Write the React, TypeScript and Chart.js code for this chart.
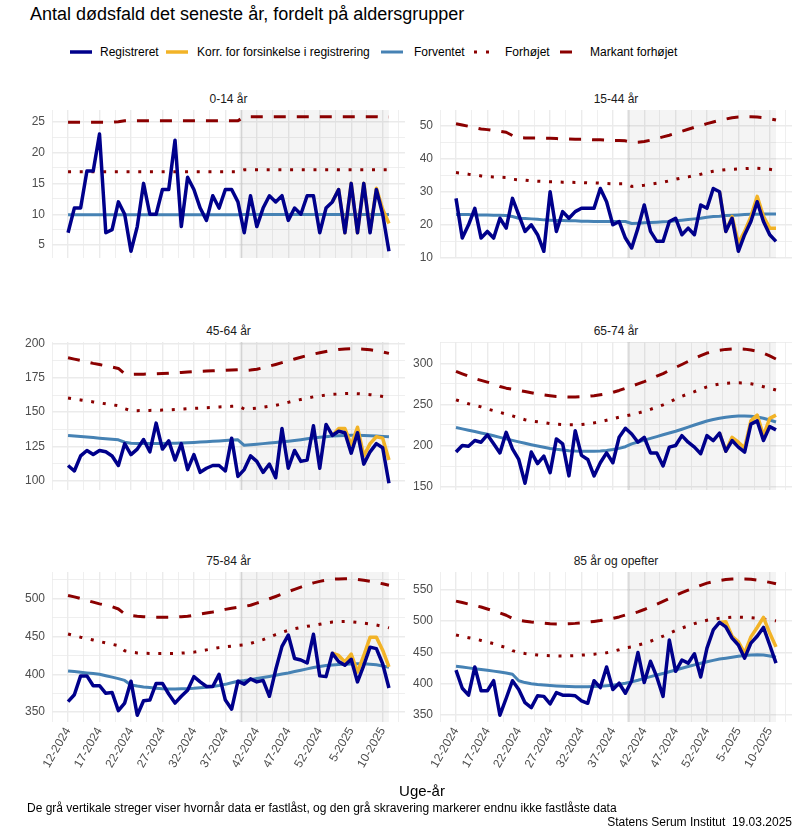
import React, { useEffect, useRef } from 'react';
import { Chart, registerables } from 'chart.js';

Chart.register(...registerables);
Chart.defaults.font.family = '"Liberation Sans", Arial, sans-serif';

// ---------- categories ----------
const WEEKS = [
  '12-2024', '13-2024', '14-2024', '15-2024', '16-2024', '17-2024', '18-2024', '19-2024', '20-2024', '21-2024',
  '22-2024', '23-2024', '24-2024', '25-2024', '26-2024', '27-2024', '28-2024', '29-2024', '30-2024', '31-2024',
  '32-2024', '33-2024', '34-2024', '35-2024', '36-2024', '37-2024', '38-2024', '39-2024', '40-2024', '41-2024',
  '42-2024', '43-2024', '44-2024', '45-2024', '46-2024', '47-2024', '48-2024', '49-2024', '50-2024', '51-2024',
  '52-2024', '1-2025', '2-2025', '3-2025', '4-2025', '5-2025', '6-2025', '7-2025', '8-2025', '9-2025',
  '10-2025', '11-2025',
];
const X_TICK_EVERY = 5;
const SHADE_START = 27.5; // between week 39 and 40 (not yet locked data)
const KORR_START = 42; // first week index of the corrected series

const PANEL_TITLES = ['0-14 år', '15-44 år', '45-64 år', '65-74 år', '75-84 år', '85 år og opefter'];
const Y_STEPS = [5, 10, 25, 50, 50, 50];

// ---------- 0-14 år ----------
const REG_A = [7, 11, 11, 17, 17, 23, 7, 7.5, 12, 10, 4, 8, 15, 10, 10, 14, 14, 22, 8, 16, 14, 11, 9, 13, 11, 14, 14, 12, 7, 13, 8, 11, 13, 12, 13, 9, 11, 10, 13, 13, 7, 11, 12, 14, 7, 15, 7, 15, 7, 14, 10, 4];
const KORR_A = [12, 14, 7, 15, 7, 15, 7.2, 14.2, 10.8, 8.5];
const FORV_A = [9.9, 9.9, 9.9, 9.9, 9.9, 9.9, 9.9, 9.9, 9.9, 9.9, 9.9, 9.9, 9.9, 9.9, 9.9, 9.9, 9.9, 9.9, 9.9, 9.9, 9.9, 9.9, 9.9, 9.9, 9.9, 9.9, 9.9, 9.9, 9.95, 9.95, 9.95, 9.95, 9.95, 9.95, 9.95, 9.95, 9.95, 9.95, 9.95, 9.95, 9.95, 9.95, 9.95, 9.95, 9.95, 9.95, 9.95, 9.95, 9.95, 9.95, 9.95, 9.95];
const FORH_A = [16.9, 16.9, 16.9, 16.9, 16.9, 16.9, 16.9, 16.9, 16.9, 16.9, 16.9, 16.9, 16.9, 16.9, 16.9, 16.9, 16.9, 16.9, 16.9, 16.9, 16.9, 16.9, 16.9, 16.9, 16.9, 16.9, 16.9, 16.9, 17.2, 17.2, 17.2, 17.2, 17.2, 17.2, 17.2, 17.2, 17.2, 17.2, 17.2, 17.2, 17.2, 17.2, 17.2, 17.2, 17.2, 17.2, 17.2, 17.2, 17.2, 17.2, 17.2, 17.2];
const MARK_A = [24.9, 24.9, 24.9, 24.9, 24.9, 24.9, 24.9, 24.9, 25.0, 25.15, 25.15, 25.15, 25.15, 25.15, 25.15, 25.15, 25.15, 25.15, 25.15, 25.15, 25.15, 25.15, 25.15, 25.15, 25.15, 25.15, 25.15, 25.15, 25.8, 25.8, 25.8, 25.8, 25.8, 25.8, 25.8, 25.8, 25.8, 25.8, 25.8, 25.8, 25.8, 25.8, 25.8, 25.8, 25.8, 25.8, 25.8, 25.8, 25.8, 25.8, 25.75, 25.75];

// ---------- 15-44 år ----------
const REG_B = [28, 16, 20, 25, 16, 18, 16, 22, 19, 28, 23, 18, 20, 17, 12, 30, 18, 24, 22, 24, 25, 25, 25, 31, 27, 20, 21, 16, 13, 19, 26, 18, 15, 15, 21, 22, 17, 19, 17, 26, 25, 31, 30, 18, 22, 12, 17, 21, 27, 21, 17, 15];
const KORR_B = [30, 18, 22.5, 14.5, 18, 22.5, 28.6, 22.6, 19, 19];
const FORV_B = [23.1, 23.1, 23.1, 23.0, 23.0, 23.0, 22.9, 22.9, 22.8, 22.5, 22.0, 21.9, 21.8, 21.7, 21.5, 21.4, 21.3, 21.3, 21.2, 21.2, 21.1, 21.1, 21.0, 21.0, 21.0, 21.0, 21.0, 21.0, 20.4, 20.5, 20.6, 20.7, 20.8, 20.9, 21.0, 21.2, 21.4, 21.6, 21.8, 22.0, 22.3, 22.5, 22.6, 22.8, 22.9, 23.0, 23.1, 23.2, 23.2, 23.3, 23.3, 23.3];
const FORH_B = [35.8, 35.6, 35.3, 35.1, 34.8, 34.6, 34.5, 34.4, 34.3, 33.8, 33.6, 33.5, 33.3, 33.2, 33.1, 33.0, 33.0, 32.9, 32.9, 32.8, 32.8, 32.7, 32.7, 32.6, 32.5, 32.4, 32.4, 32.4, 31.6, 31.8, 32.0, 32.3, 32.6, 32.9, 33.3, 33.8, 34.2, 34.5, 34.9, 35.3, 35.8, 36.2, 36.5, 36.7, 36.8, 36.9, 37.0, 37.1, 37.1, 37.0, 36.8, 36.5];
const MARK_B = [50.6, 50.2, 49.8, 49.4, 49.0, 48.8, 48.5, 48.3, 48.0, 47.0, 46.4, 46.3, 46.3, 46.3, 46.2, 46.2, 46.1, 46.0, 46.0, 45.9, 45.9, 45.8, 45.7, 45.7, 45.6, 45.5, 45.5, 45.4, 44.9, 45.0, 45.2, 45.6, 46.1, 46.6, 47.1, 47.7, 48.3, 48.9, 49.5, 50.0, 50.6, 51.1, 51.6, 52.0, 52.4, 52.6, 52.7, 52.7, 52.6, 52.4, 52.1, 51.7];

// ---------- 45-64 år ----------
const REG_C = [111, 107, 118, 122, 119, 122, 121, 118, 111, 127, 119, 123, 130, 121, 142, 123, 129, 115, 127, 108, 119, 106, 109, 111, 111, 107, 131, 103, 108, 118, 114, 106, 112, 102, 138, 109, 122, 114, 115, 140, 109, 141, 133, 136, 135, 120, 135, 112, 121, 127, 124, 98];
const KORR_C = [133, 138, 138, 126, 139, 118, 127, 132, 131, 115];
const FORV_C = [133.0, 132.6, 132.2, 131.8, 131.4, 131.0, 130.6, 130.2, 129.8, 128.0, 127.2, 127.0, 127.0, 127.0, 127.0, 127.1, 127.2, 127.3, 127.5, 127.6, 127.8, 128.1, 128.4, 128.7, 129.0, 129.3, 129.6, 129.8, 125.8, 126.2, 126.6, 127.0, 127.4, 127.8, 128.3, 128.8, 129.3, 129.9, 130.5, 131.1, 131.7, 132.1, 132.5, 132.8, 133.0, 133.1, 133.1, 133.0, 132.8, 132.6, 132.3, 132.0];
const FORH_C = [160.3, 159.6, 158.9, 158.2, 157.5, 156.8, 156.1, 155.4, 154.7, 152.5, 151.1, 151.1, 151.2, 151.3, 151.4, 151.5, 151.7, 152.0, 152.2, 152.5, 152.8, 153.0, 153.3, 153.5, 153.8, 154.0, 154.3, 154.5, 152.3, 152.6, 153.0, 153.6, 154.3, 155.0, 156.0, 157.2, 158.3, 159.3, 160.3, 161.2, 161.9, 162.5, 163.0, 163.3, 163.6, 163.7, 163.5, 163.2, 162.8, 162.3, 161.5, 160.6];
const MARK_C = [189.8, 188.8, 187.8, 186.8, 185.7, 184.8, 183.9, 183.0, 182.0, 178.0, 177.6, 177.7, 177.8, 177.9, 178.0, 178.2, 178.5, 178.8, 179.1, 179.4, 179.7, 179.9, 180.1, 180.3, 180.5, 180.6, 180.9, 181.1, 180.5, 180.8, 181.4, 182.5, 183.7, 184.9, 186.2, 187.5, 188.9, 190.2, 191.4, 192.5, 193.5, 194.4, 195.2, 195.8, 196.2, 196.4, 196.4, 196.1, 195.6, 194.9, 194.0, 193.0];

// ---------- 65-74 år ----------
const REG_D = [192, 200, 199, 206, 204, 213, 202, 191, 216, 196, 183, 154, 192, 178, 187, 167, 208, 202, 163, 218, 188, 183, 163, 179, 191, 179, 210, 221, 214, 204, 210, 191, 191, 175, 198, 200, 212, 204, 198, 190, 212, 206, 215, 193, 206, 198, 192, 226, 230, 206, 223, 219];
const KORR_D = [215, 193, 210, 204, 197, 230, 237, 212, 233, 237];
const FORV_D = [221.8, 220.2, 218.6, 217.0, 215.3, 213.7, 211.8, 209.9, 208.0, 206.2, 204.4, 202.7, 201.0, 199.4, 197.9, 196.4, 195.3, 194.4, 193.7, 193.3, 193.1, 193.0, 193.0, 193.3, 194.0, 195.0, 196.5, 198.5, 202.0, 204.2, 206.5, 208.6, 210.8, 213.0, 215.2, 217.3, 219.8, 222.4, 224.9, 227.4, 229.8, 231.6, 233.2, 234.5, 235.4, 235.9, 235.9, 235.5, 234.7, 233.2, 231.0, 228.6];
const FORH_D = [255.6, 253.2, 250.8, 248.8, 247.0, 244.4, 242.4, 240.3, 238.2, 236.0, 233.5, 231.4, 229.8, 228.8, 227.8, 226.6, 225.9, 225.4, 225.3, 225.3, 225.5, 226.3, 227.5, 229.0, 230.8, 232.6, 234.5, 236.0, 237.5, 239.5, 241.5, 244.0, 246.8, 249.5, 252.8, 256.5, 260.0, 262.8, 265.5, 268.5, 271.4, 273.4, 274.8, 275.7, 276.2, 276.3, 276.1, 275.1, 273.6, 271.6, 269.5, 267.5];
const MARK_D = [290.3, 287.3, 284.3, 281.5, 279.3, 277.1, 274.7, 271.8, 269.8, 268.5, 267.2, 265.7, 264.2, 262.8, 261.5, 260.5, 259.6, 259.1, 258.9, 259.0, 259.3, 259.8, 260.6, 261.7, 262.9, 264.7, 267.0, 269.6, 272.3, 275.0, 277.8, 280.8, 284.5, 287.5, 291.4, 295.0, 298.6, 302.4, 305.9, 309.3, 312.5, 314.3, 315.9, 317.0, 317.6, 317.8, 317.3, 316.2, 314.8, 312.4, 309.0, 305.2];

// ---------- 75-84 år ----------
const REG_E = [364, 373, 398, 398, 385, 385, 375, 376, 352, 362, 391, 346, 365, 366, 388, 388, 374, 362, 371, 379, 397, 390, 384, 384, 400, 366, 354, 391, 387, 394, 390, 392, 371, 406, 437, 452, 421, 419, 415, 453, 398, 397, 428, 417, 412, 420, 390, 412, 436, 434, 414, 382];
const KORR_E = [428, 425, 416.5, 426.8, 403, 425, 449, 449, 432, 410];
const FORV_E = [404.6, 403.7, 402.8, 401.9, 401.0, 400.1, 398.2, 396.3, 394.4, 392.0, 386.0, 384.5, 383.3, 382.5, 381.7, 381.0, 380.8, 380.8, 380.9, 381.1, 381.5, 382.2, 383.0, 384.0, 385.3, 386.8, 388.8, 390.8, 391.8, 393.0, 394.4, 395.8, 397.3, 398.8, 400.4, 401.9, 403.7, 405.5, 407.3, 409.1, 410.5, 411.6, 412.5, 413.1, 413.5, 413.8, 414.0, 414.0, 413.4, 412.6, 411.2, 409.5];
const FORH_E = [453.4, 451.3, 449.2, 447.3, 445.4, 443.4, 441.6, 439.8, 438.0, 431.2, 429.5, 428.4, 428.0, 427.7, 427.6, 427.6, 427.6, 427.7, 428.1, 428.7, 429.4, 430.7, 432.4, 434.0, 435.4, 436.5, 437.4, 438.3, 439.0, 441.0, 443.5, 446.0, 449.5, 452.6, 455.5, 458.2, 460.4, 462.1, 463.6, 464.7, 466.3, 467.8, 469.2, 469.8, 469.9, 469.6, 468.8, 467.7, 466.6, 465.3, 463.5, 461.5];
const MARK_E = [504.4, 502.5, 500.3, 497.8, 495.5, 493.3, 491.3, 489.6, 486.5, 480.0, 477.8, 476.9, 476.2, 475.7, 475.5, 475.5, 475.6, 475.8, 476.2, 476.8, 478.2, 479.8, 481.2, 482.6, 484.3, 486.0, 487.4, 488.8, 489.8, 491.5, 494.2, 497.0, 500.0, 503.0, 506.2, 509.4, 512.5, 515.5, 518.5, 521.0, 523.0, 524.6, 525.8, 526.3, 526.4, 526.3, 525.6, 524.4, 523.0, 521.5, 519.8, 518.0];

// ---------- 85 år og opefter ----------
const REG_F = [422, 393, 382, 427, 389, 389, 405, 350, 377, 405, 391, 370, 362, 381, 380, 368, 386, 382, 382, 381, 373, 369, 405, 394, 427, 391, 401, 385, 405, 450, 402, 436, 411, 380, 470, 420, 438, 433, 448, 411, 457, 486, 498, 491, 473, 462, 441, 465, 476, 490, 462, 433];
const KORR_F = [498, 499, 476, 467, 449, 475, 490, 506, 481, 459];
const FORV_F = [428.0, 426.8, 425.5, 424.2, 423.0, 421.8, 420.3, 418.8, 417.2, 415.2, 405.0, 402.0, 400.3, 399.0, 398.0, 397.2, 396.6, 396.1, 395.7, 395.4, 395.3, 395.4, 395.6, 396.0, 396.8, 397.8, 399.2, 401.0, 403.2, 405.8, 408.8, 411.5, 414.0, 416.6, 419.3, 422.0, 424.8, 427.6, 430.3, 432.9, 435.3, 437.5, 439.5, 441.0, 442.5, 444.0, 445.3, 446.2, 446.5, 446.0, 444.5, 442.5];
const FORH_F = [478.0, 475.8, 473.7, 471.7, 469.3, 466.8, 464.2, 460.5, 458.0, 453.0, 450.0, 448.4, 447.2, 446.2, 445.5, 445.0, 444.6, 444.4, 444.6, 444.9, 445.8, 446.5, 447.4, 448.5, 449.7, 452.0, 454.5, 457.5, 459.0, 462.0, 464.5, 468.0, 472.0, 476.0, 480.5, 485.0, 489.0, 492.5, 496.0, 499.2, 501.5, 503.2, 504.5, 505.5, 506.2, 506.4, 506.2, 505.6, 504.7, 503.4, 502.0, 500.5];
const MARK_F = [532.0, 529.7, 527.3, 525.0, 522.6, 519.5, 516.5, 513.0, 509.5, 504.5, 501.5, 500.0, 498.6, 497.5, 496.8, 496.0, 495.6, 495.6, 496.0, 496.5, 497.4, 498.4, 499.6, 501.0, 502.8, 504.5, 506.8, 509.8, 511.8, 514.8, 518.6, 523.0, 527.0, 531.5, 536.2, 540.9, 545.5, 549.5, 553.5, 557.2, 560.7, 563.0, 565.0, 566.5, 567.3, 567.6, 567.4, 566.8, 565.6, 563.9, 561.9, 559.6];

// ---------- table built from the arrays ----------
const PANELS = [
  { reg: REG_A, korr: KORR_A, forv: FORV_A, forh: FORH_A, mark: MARK_A },
  { reg: REG_B, korr: KORR_B, forv: FORV_B, forh: FORH_B, mark: MARK_B },
  { reg: REG_C, korr: KORR_C, forv: FORV_C, forh: FORH_C, mark: MARK_C },
  { reg: REG_D, korr: KORR_D, forv: FORV_D, forh: FORH_D, mark: MARK_D },
  { reg: REG_E, korr: KORR_E, forv: FORV_E, forh: FORH_E, mark: MARK_E },
  { reg: REG_F, korr: KORR_F, forv: FORV_F, forh: FORH_F, mark: MARK_F },
];

// ---------- style / layout ----------
const FONT = '"Liberation Sans", Arial, sans-serif';
const C_REG = '#00008B';
const C_KORR = '#F2B327';
const C_FORV = '#4682B4';
const C_RED = '#8B0000';
const GRID = '#EBEBEB';
const TICK_COLOR = '#4D4D4D';

const COLS = [
  { left: 52, right: 405 },
  { left: 440, right: 792 },
];
const ROWS = [
  { top: 110, bottom: 258 },
  { top: 342, bottom: 490 },
  { top: 572, bottom: 722 },
];
const YW = 45; // y-axis label width
const XH = 72; // x-axis label height (bottom row)
const PADV = 10; // room for y labels at the plot edges

function toPts(arr: number[], start = 0) {
  return arr.map((v, i) => ({ x: start + i, y: v }));
}

const shadePlugin = {
  id: 'shade',
  beforeDatasetsDraw(chart: any) {
    const { ctx, chartArea, scales } = chart;
    const x = scales.x;
    const x0 = x.getPixelForValue(SHADE_START);
    const x1 = x.getPixelForValue(WEEKS.length - 1);
    ctx.save();
    ctx.fillStyle = 'rgba(0,0,0,0.045)';
    ctx.fillRect(x0, chartArea.top, x1 - x0, chartArea.bottom - chartArea.top);
    ctx.strokeStyle = 'rgba(0,0,0,0.075)';
    ctx.lineWidth = 3;
    ctx.beginPath();
    ctx.moveTo(x0, chartArea.top);
    ctx.lineTo(x0, chartArea.bottom);
    ctx.stroke();
    ctx.restore();
  },
};

function Panel({ idx }: { idx: number }) {
  const ref = useRef<HTMLCanvasElement>(null);
  const col = COLS[idx % 2];
  const row = ROWS[Math.floor(idx / 2)];
  const isBottom = Math.floor(idx / 2) === ROWS.length - 1;
  const w = YW + (col.right - col.left);
  const padBottom = isBottom ? 0 : PADV;
  const h = PADV + (row.bottom - row.top) + (isBottom ? XH : 0) + padBottom;

  useEffect(() => {
    const p = PANELS[idx];
    const step = Y_STEPS[idx];
    const all = [...p.reg, ...p.korr, ...p.forv, ...p.forh, ...p.mark];
    const lo = Math.min(...all);
    const hi = Math.max(...all);
    const pad = (hi - lo) * 0.05;
    const n = WEEKS.length;
    const xMin = -(n - 1) * 0.05;
    const xMax = n - 1 + (n - 1) * 0.05;
    const half = X_TICK_EVERY / 2;

    const line = (data: any[], color: string, width: number, dash: number[] = []) => ({
      data,
      borderColor: color,
      backgroundColor: color,
      borderWidth: width,
      borderDash: dash,
      borderCapStyle: 'butt' as const,
      borderJoinStyle: 'round' as const,
      pointRadius: 0,
      tension: 0,
      fill: false,
    });

    const chart = new Chart(ref.current as HTMLCanvasElement, {
      type: 'line',
      data: {
        datasets: [
          { label: 'Registreret', ...line(toPts(p.reg), C_REG, 3.5) },
          { label: 'Korr. for forsinkelse i registrering', ...line(toPts(p.korr, KORR_START), C_KORR, 3.5) },
          { label: 'Forventet', ...line(toPts(p.forv), C_FORV, 3) },
          { label: 'Forhøjet', ...line(toPts(p.forh), C_RED, 3, [3, 8.7]) },
          { label: 'Markant forhøjet', ...line(toPts(p.mark), C_RED, 3, [12, 11]) },
        ],
      },
      options: {
        animation: false,
        responsive: false,
        maintainAspectRatio: false,
        events: [],
        layout: { padding: { top: PADV, bottom: padBottom, left: 0, right: 0 }, autoPadding: false },
        plugins: { legend: { display: false }, tooltip: { enabled: false }, title: { display: false } },
        scales: {
          x: {
            type: 'linear',
            min: xMin,
            max: xMax,
            afterBuildTicks: (s: any) => {
              const t: any[] = [];
              for (let v = -half; v <= xMax; v += half) t.push({ value: v });
              s.ticks = t;
            },
            afterFit: (s: any) => {
              s.height = isBottom ? XH : 0;
              s.paddingLeft = 0;
              s.paddingRight = 0;
              s.paddingTop = 0;
              s.paddingBottom = 0;
            },
            ticks: {
              display: isBottom,
              autoSkip: false,
              minRotation: 60,
              maxRotation: 60,
              padding: 3,
              color: TICK_COLOR,
              font: { family: FONT, size: 12 },
              callback: (v: any) => {
                const i = Number(v);
                return Number.isInteger(i) && i >= 0 && i % X_TICK_EVERY === 0 && i < n ? WEEKS[i] : '';
              },
            },
            grid: {
              color: GRID,
              drawTicks: false,
              lineWidth: (c: any) => {
                const v = c.tick ? c.tick.value : 0;
                return Math.abs(v / X_TICK_EVERY - Math.round(v / X_TICK_EVERY)) < 1e-6 ? 1.4 : 0.8;
              },
            },
            border: { display: false },
          },
          y: {
            type: 'linear',
            min: lo - pad,
            max: hi + pad,
            afterBuildTicks: (s: any) => {
              const m = step / 2;
              const t: any[] = [];
              for (let v = Math.ceil(s.min / m) * m; v <= s.max; v += m) t.push({ value: v });
              s.ticks = t;
            },
            afterFit: (s: any) => {
              s.width = YW;
              s.paddingLeft = 0;
              s.paddingRight = 0;
              s.paddingTop = 0;
              s.paddingBottom = 0;
            },
            ticks: {
              padding: 7,
              color: TICK_COLOR,
              font: { family: FONT, size: 12 },
              callback: (v: any) => {
                const r = Number(v) / step;
                return Math.abs(r - Math.round(r)) < 1e-6 ? String(Math.round(Number(v))) : '';
              },
            },
            grid: {
              color: GRID,
              drawTicks: false,
              lineWidth: (c: any) => {
                const v = c.tick ? c.tick.value : 0;
                const r = v / step;
                return Math.abs(r - Math.round(r)) < 1e-6 ? 1.4 : 0.8;
              },
            },
            border: { display: false },
          },
        },
      },
      plugins: [shadePlugin],
    } as any);
    return () => chart.destroy();
  }, [idx]);

  return (
    <>
      <div
        style={{
          position: 'absolute',
          left: col.left,
          width: col.right - col.left,
          top: row.top - 17,
          height: 12,
          lineHeight: '12px',
          fontSize: 12,
          fontFamily: FONT,
          color: '#1A1A1A',
          textAlign: 'center',
          whiteSpace: 'nowrap',
        }}
      >
        {PANEL_TITLES[idx]}
      </div>
      <canvas
        ref={ref}
        width={w}
        height={h}
        style={{ position: 'absolute', left: col.left - YW, top: row.top - PADV, width: w, height: h }}
      />
    </>
  );
}

const LEGEND_ITEMS = [
  { label: 'Registreret', color: C_REG, width: 3.5, dash: '', keyX: 70, keyW: 22, textX: 100 },
  { label: 'Korr. for forsinkelse i registrering', color: C_KORR, width: 3.5, dash: '', keyX: 166, keyW: 22, textX: 197 },
  { label: 'Forventet', color: C_FORV, width: 3, dash: '', keyX: 381, keyW: 22, textX: 414 },
  { label: 'Forhøjet', color: C_RED, width: 3, dash: '3 9', keyX: 474, keyW: 18, textX: 505 },
  { label: 'Markant forhøjet', color: C_RED, width: 3, dash: '12 11', keyX: 560, keyW: 22, textX: 590 },
];

const textStyle = (extra: any) => ({
  position: 'absolute' as const,
  fontFamily: FONT,
  whiteSpace: 'nowrap' as const,
  ...extra,
});

export default function App() {
  return (
    <div style={{ position: 'absolute', left: 0, top: 0, width: 800, height: 830, background: '#fff', overflow: 'hidden' }}>
      <div style={textStyle({ left: 30, top: 5, fontSize: 18, lineHeight: '18px', color: '#000' })}>
        Antal dødsfald det seneste år, fordelt på aldersgrupper
      </div>

      <svg width={800} height={70} style={{ position: 'absolute', left: 0, top: 0 }}>
        {LEGEND_ITEMS.map((it) => (
          <line
            key={it.label}
            x1={it.keyX}
            x2={it.keyX + it.keyW}
            y1={52}
            y2={52}
            stroke={it.color}
            strokeWidth={it.width}
            strokeDasharray={it.dash || undefined}
          />
        ))}
      </svg>
      {LEGEND_ITEMS.map((it) => (
        <div key={it.label} style={textStyle({ left: it.textX, top: 46, fontSize: 12, lineHeight: '12px', color: '#000' })}>
          {it.label}
        </div>
      ))}

      {PANELS.map((_, i) => (
        <Panel key={i} idx={i} />
      ))}

      <div style={textStyle({ left: 52, width: 740, top: 783, fontSize: 15, lineHeight: '15px', color: '#000', textAlign: 'center' })}>
        Uge-år
      </div>
      <div style={textStyle({ left: 27, top: 802, fontSize: 12, lineHeight: '12px', color: '#000' })}>
        De grå vertikale streger viser hvornår data er fastlåst, og den grå skravering markerer endnu ikke fastlåste data
      </div>
      <div style={textStyle({ right: 8, top: 816, fontSize: 12, lineHeight: '12px', color: '#000', textAlign: 'right' })}>
        Statens Serum Institut&nbsp;&nbsp;19.03.2025
      </div>
    </div>
  );
}
